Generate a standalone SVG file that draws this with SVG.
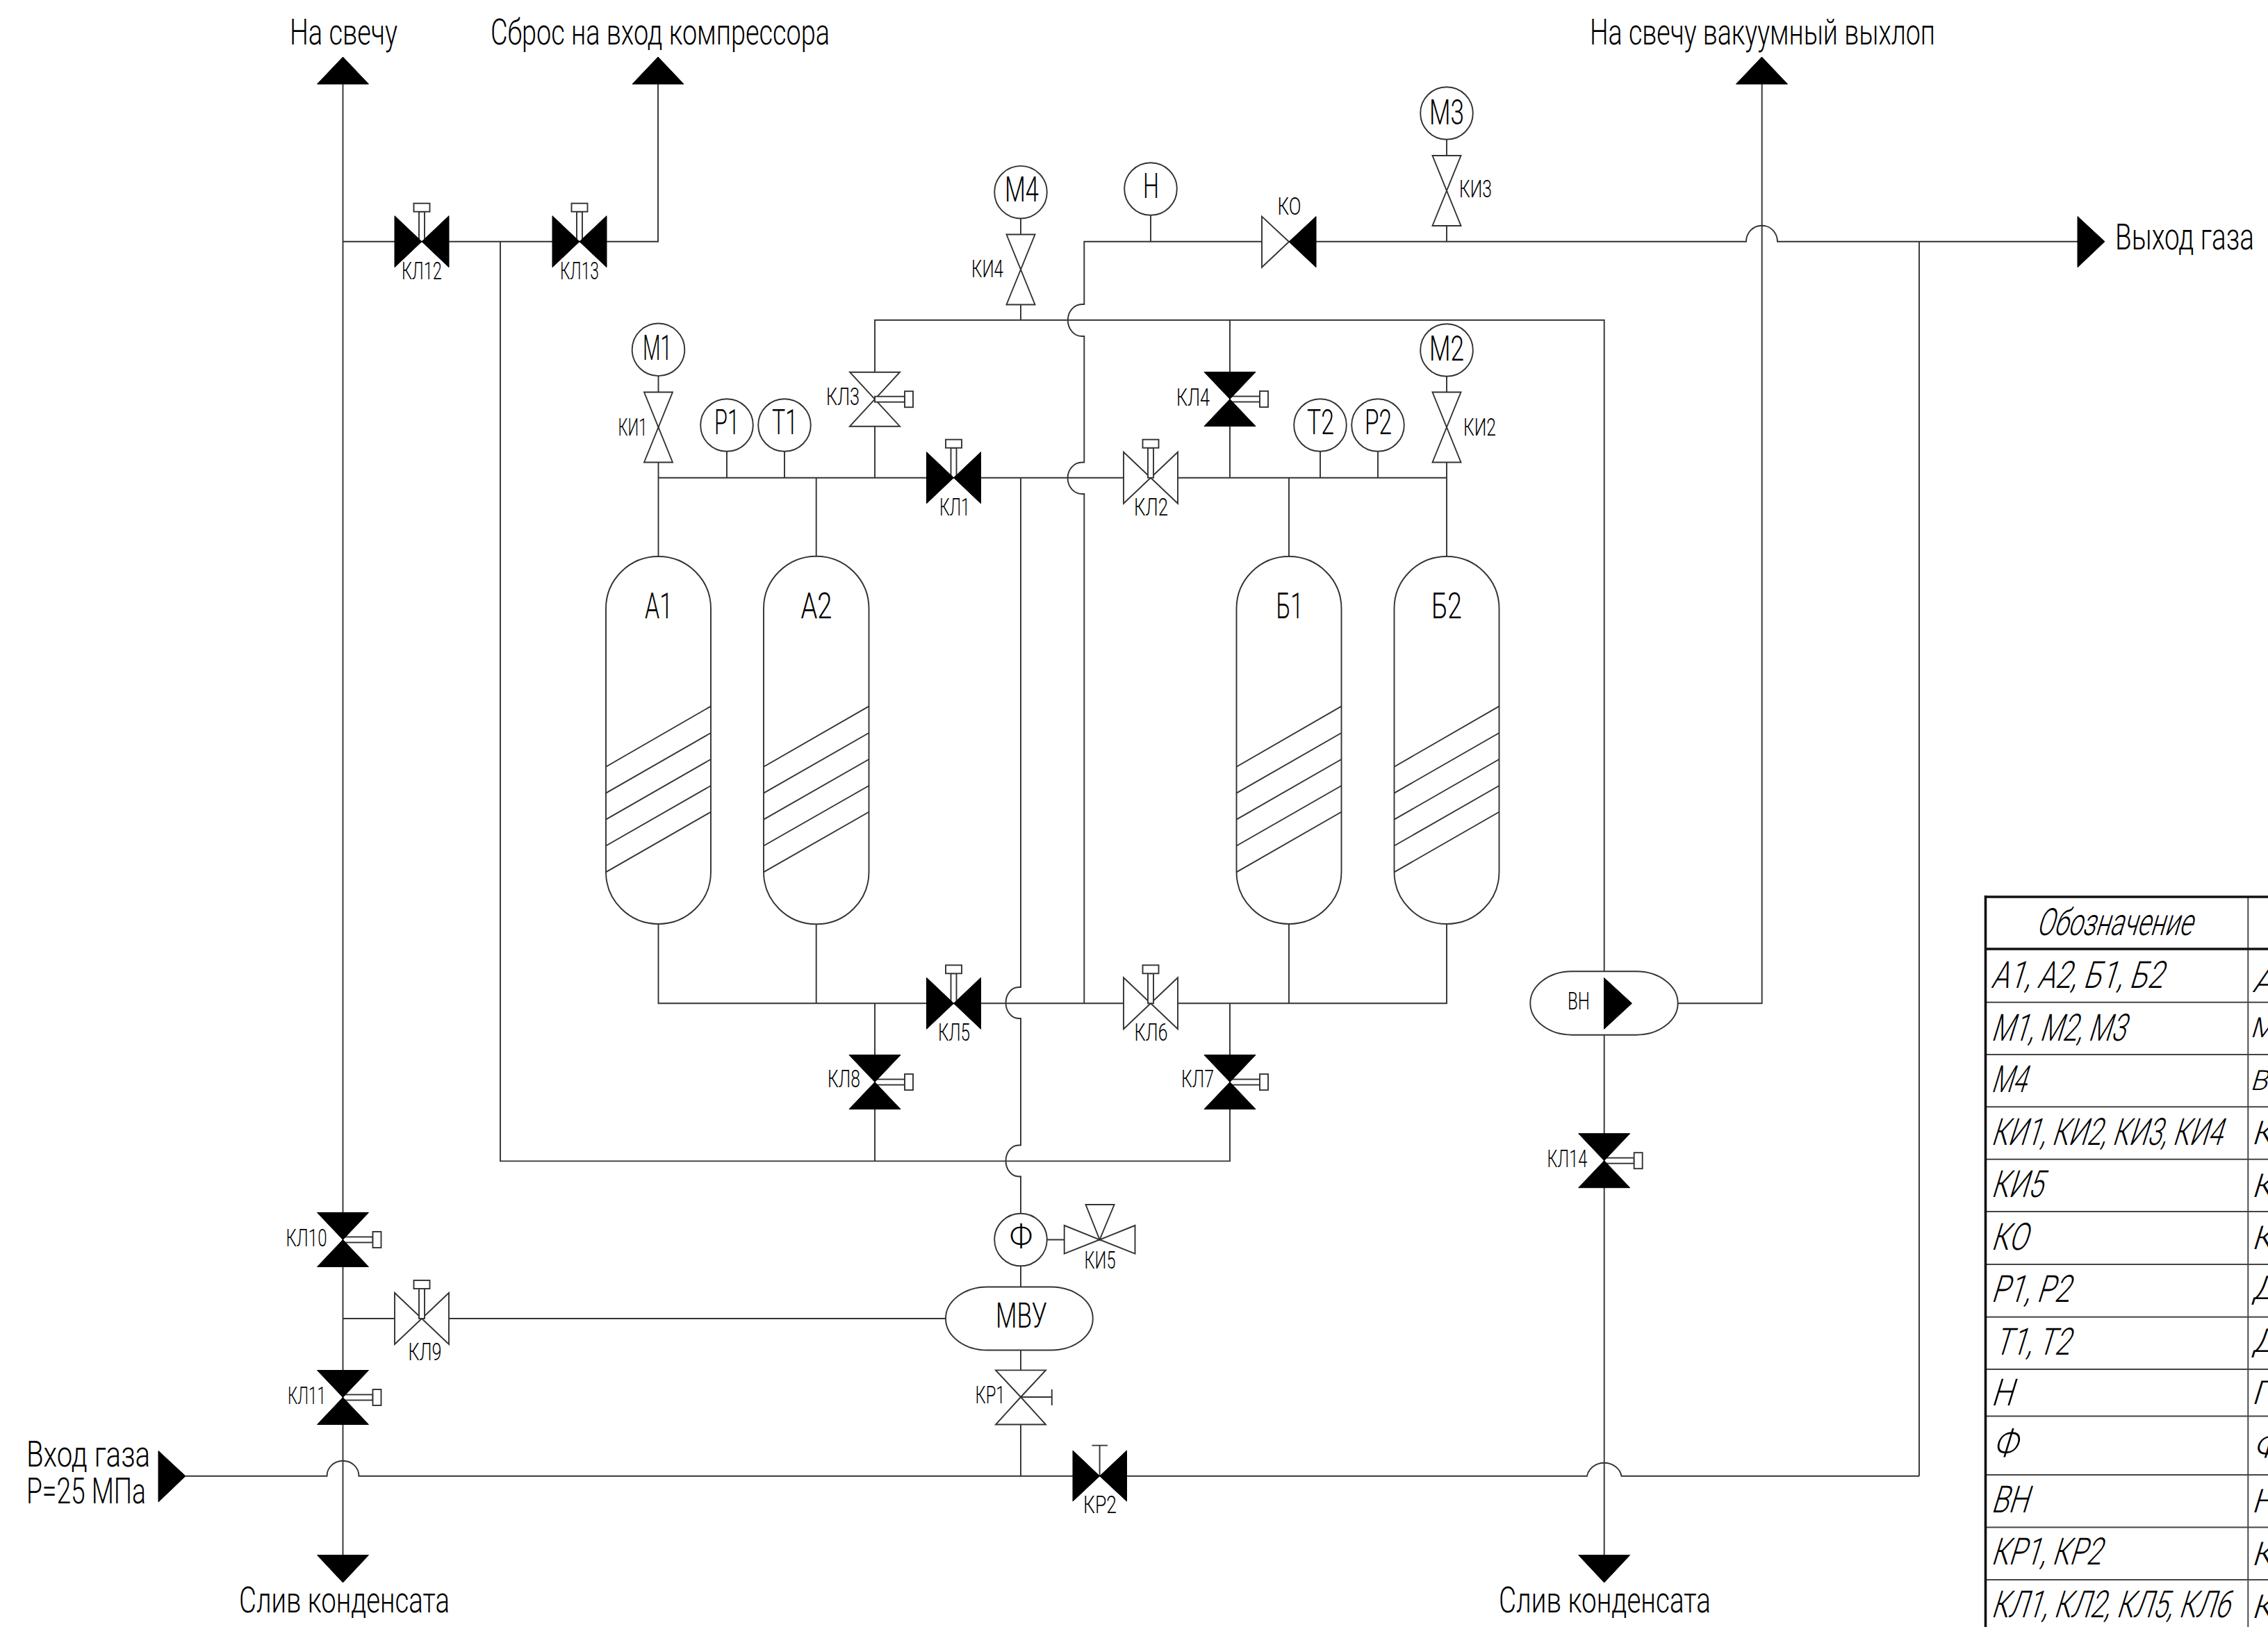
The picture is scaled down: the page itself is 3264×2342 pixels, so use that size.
<svg xmlns="http://www.w3.org/2000/svg" xmlns:xlink="http://www.w3.org/1999/xlink" width="3264" height="2342" viewBox="0 0 3264 2342">
<style>
.ln{fill:none;stroke:#333;stroke-width:1.9}
.nd{fill:#fff;stroke:#333;stroke-width:1.9}
.bk{fill:#000;stroke:#000;stroke-width:1}
.rw{stroke:#444;stroke-width:1.9}
.tk{stroke:#111;stroke-width:3.6}
text{font-family:Roboto,"Liberation Sans",Arial,sans-serif;font-weight:300;fill:#000;stroke:none}
.l{font-size:52px}
.v{font-size:35px}
.c{font-size:50px}
.t{font-size:54px}
.u{font-size:47px}
.w{font-size:40px}
</style>
<defs>
<g id="stemT"><rect class="nd" x="-4" y="-43" width="8" height="43"/><rect class="nd" x="-11.5" y="-55" width="23" height="12"/></g>
<g id="stemR"><rect class="nd" x="0" y="-4" width="43" height="8"/><rect class="nd" x="43" y="-11.5" width="12" height="23"/></g>
<g id="vfT"><use href="#stemT"/><polygon class="bk" points="-39,-37 0,0 -39,37"/><polygon class="bk" points="39,-37 0,0 39,37"/></g>
<g id="voT"><polygon class="nd" points="-39,-37 0,0 -39,37"/><polygon class="nd" points="39,-37 0,0 39,37"/><use href="#stemT"/></g>
<g id="vfR"><use href="#stemR"/><polygon class="bk" points="-37,-39 0,0 37,-39"/><polygon class="bk" points="-37,39 0,0 37,39"/></g>
<g id="voR"><polygon class="nd" points="-36,-39 0,0 36,-39"/><polygon class="nd" points="-36,39 0,0 36,39"/><use href="#stemR"/></g>
<g id="vi"><polygon class="nd" points="-20.5,-50.5 0,0 20.5,-50.5"/><polygon class="nd" points="-20.5,50.5 0,0 20.5,50.5"/></g>
<polygon id="arrU" class="bk" points="0,-39 -37,0 37,0"/>
</defs>

<g id="connectors" class="ln">
<path d="M493.5 121V2238.5"/>
<path d="M493.5 347.7H947V121"/>
<path d="M720 347.7V1671.4H1770V1444.3"/>
<path d="M1259 1444.3V1671.4"/>
<path d="M947.5 503V801.4"/>
<path d="M947.5 687.7H2082"/>
<path d="M1046 612V687.7M1129 612V687.7M1174.7 687.7V801.4M1855 687.7V801.4M1900 612V687.7M1983 612V687.7M2082 504V801.4"/>
<path d="M947.5 1330V1444.3H2082V1330M1174.7 1330V1444.3M1855 1330V1444.3"/>
<path d="M1469 687.7V1421h-3A18.500 22.500 0 0 0 1466 1466h3V1648.500h-3A18.500 22.500 0 0 0 1466 1693.500h3V2124.700"/>
<path d="M1656 272V347.700M2082 163V347.700"/>
<path d="M1560.300 1444.300V711h-3A20.500 22.500 0 0 1 1557.300 665.500h3V484h-3A20.500 23 0 0 1 1557.300 438h3V347.700H2513A22.500 23 0 0 1 2558 347.700H2990"/>
<path d="M1259 687.700V460.700H2308.700V2238.500"/>
<path d="M1469 460.700V276.700M1770 460.700V687.700"/>
<path d="M2535.700 121V1444.300H2414"/>
<path d="M2762 347.700V2124.700"/>
<path d="M267 2124.700H470.500A23 22 0 0 1 516.500 2124.700H2284A25 22 0 0 1 2333.500 2124.700H2762"/>
<path d="M493.500 1898H1361"/>
<path d="M1507 1784.500H1582"/>
</g>

<g id="tank-A1"><path class="nd" d="M872 876A75.500 75 0 0 1 1023 876V1255A75.500 75 0 0 1 872 1255Z"/><path class="ln" d="M872 1103.700L1023 1016.600M872 1141.600L1023 1055M872 1179.600L1023 1093M872 1217.500L1023 1131M872 1255.400L1023 1168.800"/><text class="l" x="928" y="889.500" textLength="40" lengthAdjust="spacingAndGlyphs">А1</text></g>
<g id="tank-A2"><path class="nd" d="M1099 876A75.500 75 0 0 1 1250.500 876V1255A75.500 75 0 0 1 1099 1255Z"/><path class="ln" d="M1099 1103.700L1250.500 1016.600M1099 1141.600L1250.500 1055M1099 1179.600L1250.500 1093M1099 1217.500L1250.500 1131M1099 1255.400L1250.500 1168.800"/><text class="l" x="1152.500" y="889.500" textLength="45" lengthAdjust="spacingAndGlyphs">А2</text></g>
<g id="tank-B1"><path class="nd" d="M1779.500 876A75.500 75 0 0 1 1930.500 876V1255A75.500 75 0 0 1 1779.500 1255Z"/><path class="ln" d="M1779.500 1103.700L1930.500 1016.600M1779.500 1141.600L1930.500 1055M1779.500 1179.600L1930.500 1093M1779.500 1217.500L1930.500 1131M1779.500 1255.400L1930.500 1168.800"/><text class="l" x="1836.500" y="889.500" textLength="39" lengthAdjust="spacingAndGlyphs">Б1</text></g>
<g id="tank-B2"><path class="nd" d="M2006.500 876A75.500 75 0 0 1 2157.500 876V1255A75.500 75 0 0 1 2006.500 1255Z"/><path class="ln" d="M2006.500 1103.700L2157.500 1016.600M2006.500 1141.600L2157.500 1055M2006.500 1179.600L2157.500 1093M2006.500 1217.500L2157.500 1131M2006.500 1255.400L2157.500 1168.800"/><text class="l" x="2060" y="889.500" textLength="44" lengthAdjust="spacingAndGlyphs">Б2</text></g>

<g id="M1"><circle class="nd" cx="947.500" cy="503.300" r="37.800"/><text class="c" x="925" y="518" textLength="42" lengthAdjust="spacingAndGlyphs">М1</text></g>
<g id="M2"><circle class="nd" cx="2082" cy="504" r="37.800"/><text class="c" x="2057" y="519" textLength="50" lengthAdjust="spacingAndGlyphs">М2</text></g>
<g id="M3"><circle class="nd" cx="2082" cy="163" r="37.800"/><text class="c" x="2057" y="179" textLength="50" lengthAdjust="spacingAndGlyphs">М3</text></g>
<g id="M4"><circle class="nd" cx="1469" cy="276.700" r="37.800"/><text class="c" x="1446" y="290" textLength="49" lengthAdjust="spacingAndGlyphs">М4</text></g>
<g id="H"><circle class="nd" cx="1656" cy="272" r="37.800"/><text class="c" x="1645" y="285" textLength="23" lengthAdjust="spacingAndGlyphs">Н</text></g>
<g id="P1"><circle class="nd" cx="1046" cy="612" r="37.800"/><text class="c" x="1028" y="625" textLength="36" lengthAdjust="spacingAndGlyphs">Р1</text></g>
<g id="T1"><circle class="nd" cx="1129" cy="612" r="37.800"/><text class="c" x="1111" y="625" textLength="37" lengthAdjust="spacingAndGlyphs">Т1</text></g>
<g id="T2"><circle class="nd" cx="1900" cy="612" r="37.800"/><text class="c" x="1881" y="625" textLength="39" lengthAdjust="spacingAndGlyphs">Т2</text></g>
<g id="P2"><circle class="nd" cx="1983" cy="612" r="37.800"/><text class="c" x="1964" y="625" textLength="39" lengthAdjust="spacingAndGlyphs">Р2</text></g>
<g id="F"><circle class="nd" cx="1469" cy="1784.500" r="37.800"/><text class="u" x="1453" y="1795" textLength="33" lengthAdjust="spacingAndGlyphs">Ф</text></g>
<g id="MVU"><rect class="nd" x="1361" y="1852.500" width="211.800" height="91" rx="60" ry="45.500"/><text class="c" x="1433" y="1911" textLength="74" lengthAdjust="spacingAndGlyphs">МВУ</text></g>
<g id="VN"><rect class="nd" x="2202.300" y="1398.300" width="212.400" height="91.400" rx="60" ry="45.700"/><polygon class="bk" points="2308.500,1407.500 2348.500,1444.300 2308.500,1481.300"/><text class="v" x="2256" y="1453" textLength="32" lengthAdjust="spacingAndGlyphs">ВН</text></g>

<g id="KL12"><use href="#vfT" x="607" y="347.700"/><text class="v" x="578" y="401.700" textLength="58" lengthAdjust="spacingAndGlyphs">КЛ12</text></g>
<g id="KL13"><use href="#vfT" x="834" y="347.700"/><text class="v" x="806" y="401.700" textLength="56" lengthAdjust="spacingAndGlyphs">КЛ13</text></g>
<g id="KL1"><use href="#vfT" x="1372.500" y="687.700"/><text class="v" x="1352" y="741.700" textLength="44" lengthAdjust="spacingAndGlyphs">КЛ1</text></g>
<g id="KL2"><use href="#voT" x="1656" y="687.700"/><text class="v" x="1632" y="741.500" textLength="49" lengthAdjust="spacingAndGlyphs">КЛ2</text></g>
<g id="KL3"><use href="#voR" x="1259" y="574.700"/><text class="v" x="1189" y="583.300" textLength="48" lengthAdjust="spacingAndGlyphs">КЛ3</text></g>
<g id="KL4"><use href="#vfR" x="1770" y="574.500"/><text class="v" x="1693" y="583.500" textLength="48" lengthAdjust="spacingAndGlyphs">КЛ4</text></g>
<g id="KL5"><use href="#vfT" x="1372.500" y="1444.300"/><text class="v" x="1350" y="1498" textLength="46" lengthAdjust="spacingAndGlyphs">КЛ5</text></g>
<g id="KL6"><use href="#voT" x="1656" y="1444.300"/><text class="v" x="1632.500" y="1498" textLength="48" lengthAdjust="spacingAndGlyphs">КЛ6</text></g>
<g id="KL7"><use href="#vfR" x="1770" y="1557.600"/><text class="v" x="1700" y="1565.300" textLength="47" lengthAdjust="spacingAndGlyphs">КЛ7</text></g>
<g id="KL8"><use href="#vfR" x="1259" y="1557.600"/><text class="v" x="1191" y="1565.300" textLength="47" lengthAdjust="spacingAndGlyphs">КЛ8</text></g>
<g id="KL9"><use href="#voT" x="607" y="1898"/><text class="v" x="587.500" y="1958" textLength="48" lengthAdjust="spacingAndGlyphs">КЛ9</text></g>
<g id="KL10"><use href="#vfR" x="493.500" y="1784.500"/><text class="v" x="411.500" y="1794" textLength="59" lengthAdjust="spacingAndGlyphs">КЛ10</text></g>
<g id="KL11"><use href="#vfR" x="493.500" y="2011.500"/><text class="v" x="414" y="2020.500" textLength="55" lengthAdjust="spacingAndGlyphs">КЛ11</text></g>
<g id="KL14"><use href="#vfR" x="2308.700" y="1670.700"/><text class="v" x="2226.500" y="1680" textLength="58" lengthAdjust="spacingAndGlyphs">КЛ14</text></g>

<g id="KI1"><use href="#vi" x="947.500" y="615"/><text class="v" x="889.500" y="626.700" textLength="42" lengthAdjust="spacingAndGlyphs">КИ1</text></g>
<g id="KI2"><use href="#vi" x="2082" y="615"/><text class="v" x="2106" y="626.800" textLength="47" lengthAdjust="spacingAndGlyphs">КИ2</text></g>
<g id="KI3"><use href="#vi" x="2082" y="274.500"/><text class="v" x="2100" y="284" textLength="47" lengthAdjust="spacingAndGlyphs">КИ3</text></g>
<g id="KI4"><use href="#vi" x="1469" y="388"/><text class="v" x="1398" y="399" textLength="46" lengthAdjust="spacingAndGlyphs">КИ4</text></g>
<g id="KI5"><polygon class="nd" points="1531.700,1764 1582.600,1784.500 1531.700,1804.600"/><polygon class="nd" points="1633.500,1764 1582.600,1784.500 1633.500,1804.600"/><polygon class="nd" points="1562.500,1734 1603.600,1734 1582.600,1784.500"/><text class="v" x="1560.500" y="1826" textLength="45" lengthAdjust="spacingAndGlyphs">КИ5</text></g>
<g id="KO"><polygon class="nd" points="1816,311.600 1855,348 1816,384.800"/><polygon class="bk" points="1894,311.600 1855,348 1894,384.800"/><text class="v" x="1838.500" y="308.500" textLength="34" lengthAdjust="spacingAndGlyphs">КО</text></g>
<g id="KP1"><polygon class="nd" points="1433,1972.400 1505,1972.400 1469,2011"/><polygon class="nd" points="1433,2050.500 1505,2050.500 1469,2011"/><path class="ln" d="M1469 2011H1513.800M1513.800 2000V2023"/><text class="v" x="1403.500" y="2020" textLength="43" lengthAdjust="spacingAndGlyphs">КР1</text></g>
<g id="KP2"><path class="ln" d="M1582.600 2124.700V2080.600M1571.400 2080.600H1594"/><polygon class="bk" points="1544,2088 1582.600,2124.700 1544,2161"/><polygon class="bk" points="1621.500,2088 1582.600,2124.700 1621.500,2161"/><text class="v" x="1559" y="2178" textLength="48" lengthAdjust="spacingAndGlyphs">КР2</text></g>

<g id="out-svecha-1"><use href="#arrU" x="493.500" y="121"/><text class="l" x="417" y="64" textLength="155" lengthAdjust="spacingAndGlyphs">На свечу</text></g>
<g id="out-sbros"><use href="#arrU" x="947" y="121"/><text class="l" x="706" y="64" textLength="488" lengthAdjust="spacingAndGlyphs">Сброс на вход компрессора</text></g>
<g id="out-vac"><use href="#arrU" x="2535.500" y="121"/><text class="l" x="2288" y="64" textLength="497" lengthAdjust="spacingAndGlyphs">На свечу вакуумный выхлоп</text></g>
<g id="out-gas"><polygon class="bk" points="2990,311.600 3029,347.700 2990,384.800"/><text class="l" transform="translate(3044 359) scale(.75 1)" textLength="266.700" lengthAdjust="spacingAndGlyphs">Выход газа</text></g>
<g id="in-gas"><polygon class="bk" points="228,2088.500 267,2124.700 228,2162"/><text class="l" x="38" y="2111" textLength="178" lengthAdjust="spacingAndGlyphs">Вход газа</text><text class="l" x="38" y="2164.300" textLength="172" lengthAdjust="spacingAndGlyphs">Р=25 МПа</text></g>
<g id="drain-1"><polygon class="bk" points="456.500,2238.500 530.500,2238.500 493.500,2278"/><text class="l" x="344" y="2321" textLength="303" lengthAdjust="spacingAndGlyphs">Слив конденсата</text></g>
<g id="drain-2"><polygon class="bk" points="2271.700,2238.500 2345.700,2238.500 2308.700,2278"/><text class="l" x="2157" y="2321" textLength="305" lengthAdjust="spacingAndGlyphs">Слив конденсата</text></g>

<g id="legend">
<path class="rw" d="M2857 1442.700H3264M2857 1518H3264M2857 1593.300H3264M2857 1668.700H3264M2857 1744H3264M2857 1820H3264M2857 1895.700H3264M2857 1971H3264M2857 2038.500H3264M2857 2123H3264M2857 2198.500H3264M2857 2274H3264"/>
<path class="rw" d="M3235.300 1291V2342"/>
<path class="tk" d="M2857 1291H3264M2857 1366H3264M2857.500 1289V2342"/>
<text class="t" transform="translate(2930 1346) scale(.75 1) skewX(-22)" textLength="298.700" lengthAdjust="spacingAndGlyphs">Обозначение</text>
<text class="t" transform="translate(2865 1422) skewX(-17)" textLength="247" lengthAdjust="spacingAndGlyphs">А1, А2, Б1, Б2</text>
<text class="t" transform="translate(2865 1498) skewX(-17)" textLength="193" lengthAdjust="spacingAndGlyphs">М1, М2, М3</text>
<text class="t" transform="translate(2865 1572) skewX(-17)" textLength="50" lengthAdjust="spacingAndGlyphs">М4</text>
<text class="t" transform="translate(2865 1648) scale(.7 1) skewX(-24)" textLength="474" lengthAdjust="spacingAndGlyphs">КИ1, КИ2, КИ3, КИ4</text>
<text class="t" transform="translate(2865 1723) skewX(-17)" textLength="74" lengthAdjust="spacingAndGlyphs">КИ5</text>
<text class="t" transform="translate(2865 1799) skewX(-17)" textLength="52" lengthAdjust="spacingAndGlyphs">КО</text>
<text class="t" transform="translate(2865 1874) skewX(-17)" textLength="113" lengthAdjust="spacingAndGlyphs">Р1, Р2</text>
<text class="t" transform="translate(2870 1950) skewX(-17)" textLength="108" lengthAdjust="spacingAndGlyphs">Т1, Т2</text>
<text class="t" transform="translate(2865 2022.500) skewX(-17)" textLength="31" lengthAdjust="spacingAndGlyphs">Н</text>
<text class="t" transform="translate(2868 2096) skewX(-17)" textLength="34" lengthAdjust="spacingAndGlyphs">Ф</text>
<text class="t" transform="translate(2865 2176.500) skewX(-17)" textLength="53" lengthAdjust="spacingAndGlyphs">ВН</text>
<text class="t" transform="translate(2865 2251.700) skewX(-17)" textLength="158" lengthAdjust="spacingAndGlyphs">КР1, КР2</text>
<text class="t" transform="translate(2865 2327.600) scale(.7 1) skewX(-24)" textLength="490" lengthAdjust="spacingAndGlyphs">КЛ1, КЛ2, КЛ5, КЛ6</text>
<text class="u" transform="translate(3241 1428) skewX(-17)">А</text>
<text class="w" transform="translate(3238 1493.300) skewX(-17)">Ма</text>
<text class="w" transform="translate(3238 1569.300) skewX(-17)">Ва</text>
<text class="u" transform="translate(3240 1646.700) skewX(-17)">К</text>
<text class="u" transform="translate(3240 1722.700) skewX(-17)">К</text>
<text class="u" transform="translate(3240 1798.300) skewX(-17)">К</text>
<text class="u" transform="translate(3241 1870) skewX(-17)">Д</text>
<text class="u" transform="translate(3241 1946) skewX(-17)">Д</text>
<text class="u" transform="translate(3240 2021) skewX(-17)">П</text>
<text class="u" transform="translate(3243 2097) skewX(-17)">Ф</text>
<text class="u" transform="translate(3240 2176.800) skewX(-17)">Н</text>
<text class="u" transform="translate(3240 2252.800) skewX(-17)">К</text>
<text class="u" transform="translate(3240 2329) skewX(-17)">К</text>
</g>
</svg>
